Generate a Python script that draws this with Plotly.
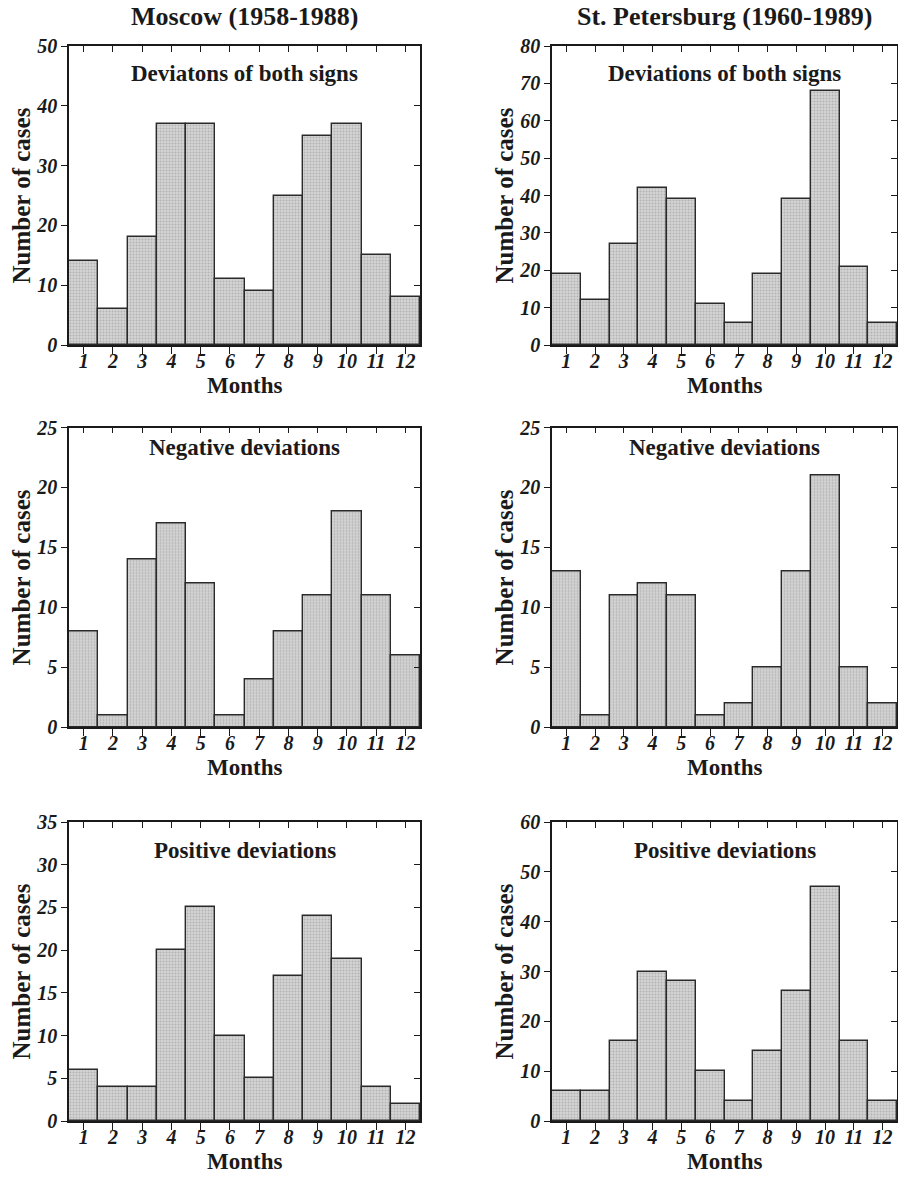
import plotly.graph_objects as go

# the page body has an 8px margin; target-page pixels are shifted by it
OFF = 8
W, H = 890, 1163

months = list(range(1, 13))
month_labels = [str(m) for m in months]

moscow_both = [14, 6, 18, 37, 37, 11, 9, 25, 35, 37, 15, 8]
spb_both = [19, 12, 27, 42, 39, 11, 6, 19, 39, 68, 21, 6]
moscow_neg = [8, 1, 14, 17, 12, 1, 4, 8, 11, 18, 11, 6]
spb_neg = [13, 1, 11, 12, 11, 1, 2, 5, 13, 21, 5, 2]
moscow_pos = [6, 4, 4, 20, 25, 10, 5, 17, 24, 19, 4, 2]
spb_pos = [6, 6, 16, 30, 28, 10, 4, 14, 26, 47, 16, 4]

column_titles = ["Moscow (1958-1988)", "St. Petersburg (1960-1989)"]
panel_titles = ["Deviatons of both signs", "Deviations of both signs",
                "Negative deviations", "Negative deviations",
                "Positive deviations", "Positive deviations"]
series = [moscow_both, spb_both, moscow_neg, spb_neg, moscow_pos, spb_pos]
y_max = [50, 80, 25, 25, 35, 60]
y_step = [10, 10, 5, 5, 5, 10]

# layout geometry in target-page pixels
col_px = [(69, 420), (552, 897)]
row_px = [(46, 345), (427.5, 727.3), (822, 1121)]
title_px = [74, 448, 851]


def fx(px):
    return min(1.0, max(0.0, (px - OFF) / W))


def fy(py):
    return min(1.0, max(0.0, 1 - (py - OFF) / H))


FONT = "Liberation Serif"
INK = "#1a1a1a"

fig = go.Figure()
layout = dict(
    width=W, height=H,
    margin=dict(l=0, r=0, t=0, b=0, pad=0, autoexpand=False),
    paper_bgcolor="white", plot_bgcolor="white",
    showlegend=False, bargap=0,
    font=dict(family=FONT, color=INK),
)
annotations = []

for k in range(6):
    r, c = divmod(k, 2)
    idx = k + 1
    top_idx = k + 7
    x0, x1 = col_px[c]
    ytop, ybot = row_px[r]
    xdom = [fx(x0), fx(x1)]
    ydom = [fy(ybot), fy(ytop)]
    xs = "" if idx == 1 else str(idx)

    fig.add_trace(go.Bar(
        x=months, y=series[k], width=1,
        xaxis="x" + xs, yaxis="y" + xs,
        marker=dict(
            color="#c6c6c6",
            line=dict(color="#2a2a2a", width=1.4),
            pattern=dict(shape=".", size=3, solidity=0.35,
                         fgcolor="#8f8f8f", bgcolor="#d4d4d4"),
        ),
        hoverinfo="skip",
    ))

    tickfont = dict(family=FONT, size=20, color=INK, weight="bold", style="italic")
    layout["xaxis" + xs] = dict(
        domain=xdom, anchor="y" + xs, range=[0.5, 12.5],
        tickmode="array", tickvals=months, ticktext=month_labels,
        ticks="outside", ticklen=7, tickwidth=1.3, tickcolor=INK,
        ticklabelstandoff=-10,
        showline=True, linecolor=INK, linewidth=1.5,
        showgrid=False, zeroline=False, tickfont=tickfont,
        fixedrange=True, automargin=False,
    )
    layout["yaxis" + xs] = dict(
        domain=ydom, anchor="x" + xs, range=[0, y_max[k]],
        tickmode="linear", tick0=0, dtick=y_step[k],
        ticks="outside", ticklen=6, tickwidth=1.3, tickcolor=INK,
        showline=True, linecolor=INK, linewidth=1.5,
        showgrid=False, zeroline=False, tickfont=tickfont,
        fixedrange=True, automargin=False,
    )
    # top and right frame axes with inward ticks
    layout["xaxis" + str(top_idx)] = dict(
        overlaying="x" + xs, anchor="y" + xs, side="top",
        range=[0.5, 12.5], tickmode="array", tickvals=months,
        ticks="inside", ticklen=6, tickwidth=1.3, tickcolor=INK,
        showticklabels=False, showline=True, linecolor=INK, linewidth=1.5,
        showgrid=False, zeroline=False, fixedrange=True, automargin=False,
    )
    layout["yaxis" + str(top_idx)] = dict(
        overlaying="y" + xs, anchor="x" + xs, side="right",
        range=[0, y_max[k]], tickmode="linear", tick0=0, dtick=y_step[k],
        ticks="inside", ticklen=6, tickwidth=1.3, tickcolor=INK,
        showticklabels=False, showline=True, linecolor=INK, linewidth=1.5,
        showgrid=False, zeroline=False, fixedrange=True, automargin=False,
    )
    # invisible trace so the frame axes are drawn
    fig.add_trace(go.Scatter(
        x=[0.5], y=[0], xaxis="x" + str(top_idx), yaxis="y" + str(top_idx),
        mode="markers", marker=dict(opacity=0), hoverinfo="skip",
    ))

    dom_y = "y" + xs + " domain"
    cx = fx((x0 + x1) / 2)
    annotations.append(dict(
        text=panel_titles[k], xref="paper", yref="paper",
        x=cx, y=fy(title_px[r]),
        showarrow=False, xanchor="center", yanchor="middle",
        font=dict(family=FONT, size=23, color=INK, weight="bold"),
    ))
    annotations.append(dict(
        text="Months", xref="paper", yref="paper",
        x=cx, y=fy(ybot + 40),
        showarrow=False, xanchor="center", yanchor="middle",
        font=dict(family=FONT, size=23, color=INK, weight="bold"),
    ))
    annotations.append(dict(
        text="Number of cases", xref="paper", yref=dom_y,
        x=fx(x0 - 48), y=0.5, textangle=-90,
        showarrow=False, xanchor="center", yanchor="middle",
        borderpad=0,
        font=dict(family=FONT, size=25, color=INK, weight="bold"),
    ))

for c in range(2):
    x0, x1 = col_px[c]
    annotations.append(dict(
        text=column_titles[c], xref="paper", yref="paper",
        x=fx((x0 + x1) / 2), y=fy(17),
        showarrow=False, xanchor="center", yanchor="middle",
        font=dict(family=FONT, size=26, color=INK, weight="bold"),
    ))

layout["annotations"] = annotations
fig.update_layout(**layout)
fig.write_html("out.html")
